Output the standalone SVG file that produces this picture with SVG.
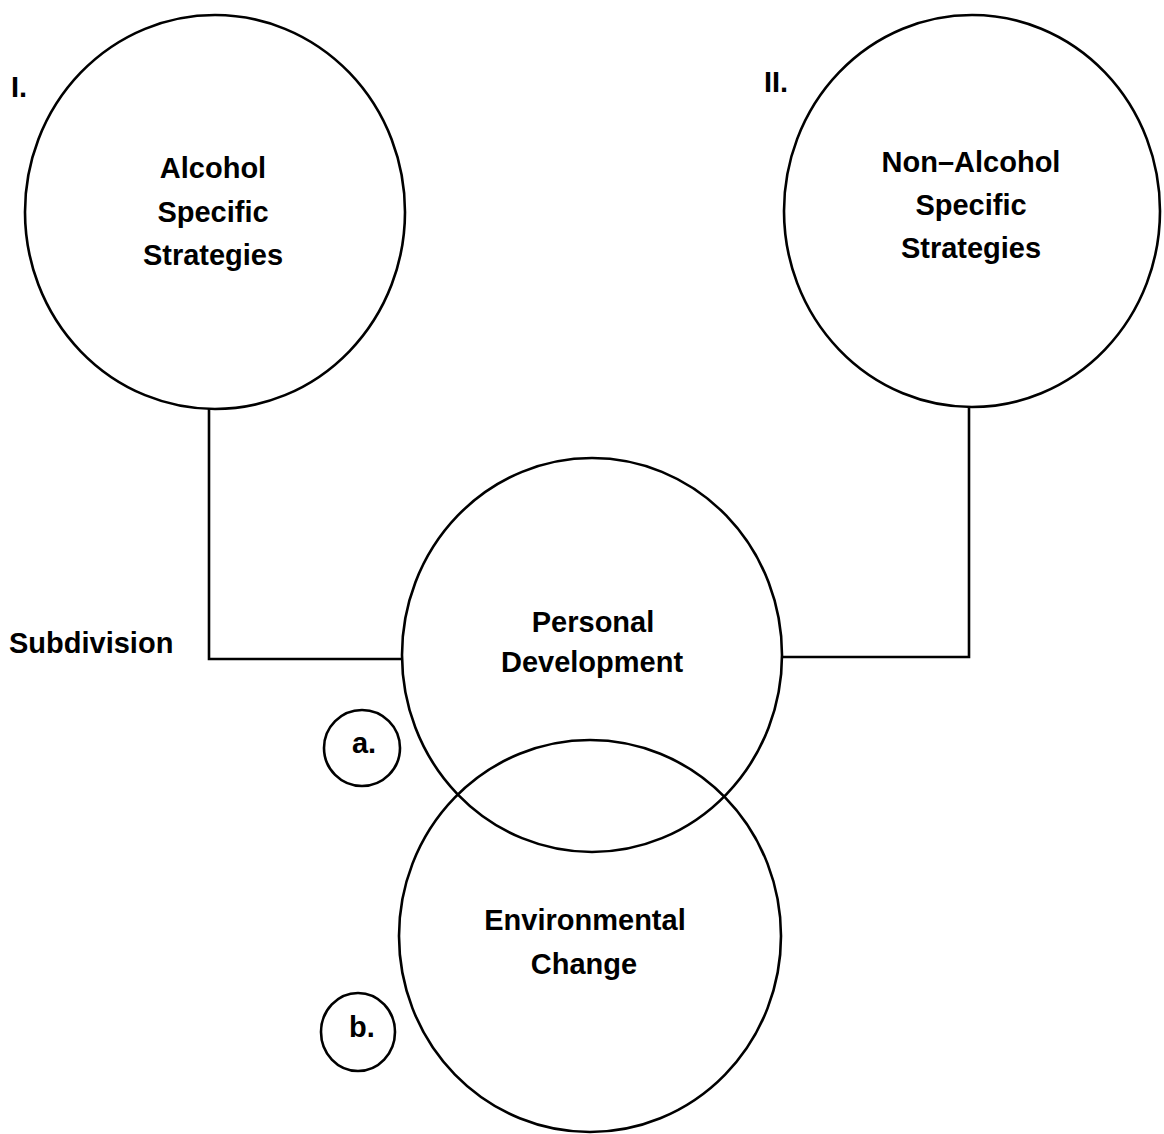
<svg xmlns="http://www.w3.org/2000/svg" width="1164" height="1134" viewBox="0 0 1164 1134">
<style>
.c{fill:none;stroke:#000;stroke-width:2.6}
.l{fill:none;stroke:#000;stroke-width:2.6}
text{font-family:"Liberation Sans",Arial,sans-serif;font-weight:bold;font-size:29px;fill:#000;text-anchor:middle}
.s{text-anchor:start}
</style>
<rect width="1164" height="1134" fill="#fff"/>
<g id="connectors">
<polyline class="l" points="209,408 209,659 402,659"/>
<polyline class="l" points="969,406 969,657 782,657"/>
</g>
<g id="node-I">
<ellipse class="c" cx="215" cy="212" rx="190" ry="197"/>
<text x="213" y="178">Alcohol</text>
<text x="213" y="222">Specific</text>
<text x="213" y="265">Strategies</text>
</g>
<g id="label-I"><text class="s" x="11" y="97">I.</text></g>
<g id="node-II">
<ellipse class="c" cx="972" cy="211" rx="188" ry="196"/>
<text x="971" y="172">Non–Alcohol</text>
<text x="971" y="215">Specific</text>
<text x="971" y="258">Strategies</text>
</g>
<g id="label-II"><text class="s" x="764" y="92">II.</text></g>
<g id="label-subdivision"><text class="s" x="9" y="653">Subdivision</text></g>
<g id="node-personal">
<ellipse class="c" cx="592" cy="655" rx="190" ry="197"/>
<text x="593" y="632">Personal</text>
<text x="592" y="672">Development</text>
</g>
<g id="node-environmental">
<ellipse class="c" cx="590" cy="936" rx="191" ry="196"/>
<text x="585" y="930">Environmental</text>
<text x="584" y="974">Change</text>
</g>
<g id="node-a">
<ellipse class="c" cx="362" cy="748" rx="38" ry="38"/>
<text x="364" y="753">a.</text>
</g>
<g id="node-b">
<ellipse class="c" cx="358" cy="1032" rx="37" ry="39"/>
<text x="362" y="1037">b.</text>
</g>
</svg>
